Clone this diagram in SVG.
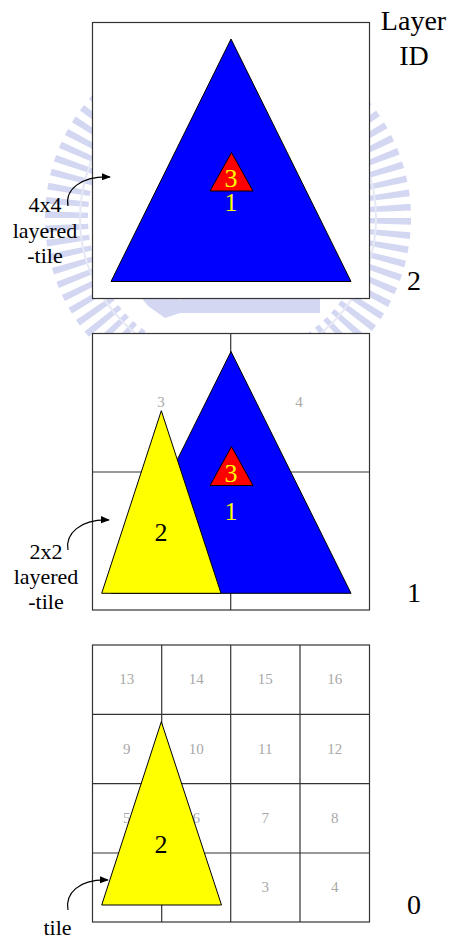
<svg xmlns="http://www.w3.org/2000/svg" width="450" height="939" viewBox="0 0 450 939">
  <defs>
    <style>
      .t { font-family: "Liberation Serif", "Times New Roman", "DejaVu Serif", serif; text-anchor: middle; }
      .lbl { font-size: 22px; fill: #000; }
      .lid { font-size: 28px; fill: #000; }
      .num { font-size: 26px; }
      .gray { font-size: 15px; fill: #a8a8a8; }
      .box { fill: #fff; stroke: #333; stroke-width: 1.2; }
      .grid { stroke: #333; stroke-width: 1.2; fill: none; }
      .tri { stroke: #000; stroke-width: 1; stroke-linejoin: miter; }
      .conn { fill: none; stroke: #000; stroke-width: 1.2; }
      .wm { fill: #d3d7f2; }
    </style>
    <marker id="ah" viewBox="0 0 10 10" refX="9" refY="5" markerWidth="9" markerHeight="9" markerUnits="userSpaceOnUse" orient="auto">
      <path d="M0,1 L10,5 L0,9 Z" fill="#000"/>
    </marker>
  </defs>
  <rect width="450" height="939" fill="#fff"/>

  <!-- faint watermark -->
  <g id="watermark">
    <circle cx="228" cy="218" r="161.5" fill="none" stroke="#d3d7f2" stroke-width="43" stroke-dasharray="6 6.68"/>
    <circle cx="228" cy="218" r="148" fill="none" stroke="#e6e8f5" stroke-width="2"/>
    <rect class="wm" x="180" y="290" width="140" height="23"/>
    <polygon class="wm" points="140,296 160,290 180,300 180,313 165,318 148,306"/>
  </g>

  <!-- Layer 2: 4x4 layered-tile -->
  <g id="layer2">
    <rect class="box" x="92.5" y="22.5" width="277" height="276"/>
    <polygon class="tri" fill="#0000ff" points="231,39 111,281.5 351,281.5"/>
    <polygon class="tri" fill="#ff0000" points="231.5,152.5 210,191 253,191"/>
    <text class="t num" x="231" y="187" fill="#ffff00">3</text>
    <text class="t num" x="231" y="210.5" fill="#ffff00">1</text>
  </g>

  <!-- Layer 1: 2x2 layered-tile -->
  <g id="layer1">
    <rect class="box" x="92.5" y="333.5" width="277" height="276.5"/>
    <path class="grid" d="M230.7,333.5 V610 M92.5,472 H369.5"/>
    <text class="t gray" x="161" y="407">3</text>
    <text class="t gray" x="299" y="407">4</text>
    <polygon class="tri" fill="#0000ff" points="231,351.5 111,593.3 351,593.3"/>
    <polygon class="tri" fill="#ff0000" points="231.5,446.5 210,485.5 253,485.5"/>
    <text class="t num" x="231" y="481.5" fill="#ffff00">3</text>
    <text class="t num" x="231" y="520" fill="#ffff00">1</text>
    <polygon class="tri" fill="#ffff00" points="161.3,410.7 101.7,593.3 221,593.3"/>
    <text class="t num" x="161" y="540.5" fill="#000">2</text>
  </g>

  <!-- Layer 0: tiles -->
  <g id="layer0">
    <rect class="box" x="92.5" y="645" width="277" height="277"/>
    <path class="grid" d="M161.7,645 V922 M230.7,645 V922 M300,645 V922 M92.5,714.3 H369.5 M92.5,783.7 H369.5 M92.5,853 H369.5"/>
    <text class="t gray" x="126.8" y="684">13</text>
    <text class="t gray" x="196.2" y="684">14</text>
    <text class="t gray" x="265.3" y="684">15</text>
    <text class="t gray" x="334.7" y="684">16</text>
    <text class="t gray" x="126.8" y="754">9</text>
    <text class="t gray" x="196.2" y="754">10</text>
    <text class="t gray" x="265.3" y="754">11</text>
    <text class="t gray" x="334.7" y="754">12</text>
    <text class="t gray" x="126.8" y="823">5</text>
    <text class="t gray" x="196.2" y="823">6</text>
    <text class="t gray" x="265.3" y="823">7</text>
    <text class="t gray" x="334.7" y="823">8</text>
    <text class="t gray" x="265.3" y="892">3</text>
    <text class="t gray" x="334.7" y="892">4</text>
    <polygon class="tri" fill="#ffff00" points="161.3,721.7 101.7,905 221.5,905"/>
    <text class="t num" x="161" y="852.5" fill="#000">2</text>
  </g>

  <!-- side labels -->
  <g id="label-4x4">
    <text class="t lbl" x="45" y="212">4x4</text>
    <text class="t lbl" x="45" y="237.5">layered</text>
    <text class="t lbl" x="45" y="263">-tile</text>
  </g>
  <g id="label-2x2">
    <text class="t lbl" x="46" y="559">2x2</text>
    <text class="t lbl" x="46" y="584">layered</text>
    <text class="t lbl" x="46" y="608.5">-tile</text>
  </g>
  <g id="label-tile">
    <text class="t lbl" x="57.5" y="935">tile</text>
  </g>

  <g id="layer-id">
    <text class="t lid" x="413.5" y="30">Layer</text>
    <text class="t lid" x="414" y="65">ID</text>
    <text class="t lid" x="414" y="290">2</text>
    <text class="t lid" x="414" y="602">1</text>
    <text class="t lid" x="414" y="914">0</text>
  </g>

  <!-- connectors -->
  <g id="connectors">
    <path class="conn" d="M68,206 C65,190 80,176 110,177" marker-end="url(#ah)"/>
    <path class="conn" d="M68,550 C65,534 80,519 109,520" marker-end="url(#ah)"/>
    <path class="conn" d="M68,910 C65,894 78,879 108,880" marker-end="url(#ah)"/>
  </g>
</svg>
